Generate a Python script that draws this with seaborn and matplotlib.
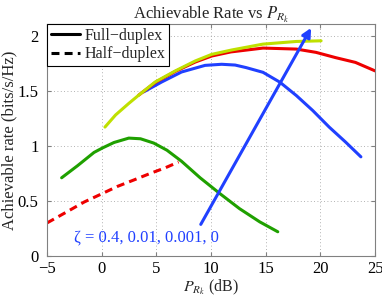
import matplotlib
matplotlib.use("Agg")
import matplotlib.pyplot as plt
import seaborn as sns

# full-duplex curves, one per zeta
zeta04_x = [-3.66, -2.2, -0.7, 0.06, 1.12, 2.48, 3.55, 4.76, 5.97, 7.3,
            9.0, 10.8, 12.6, 14.45, 16.1]
zeta04_y = [0.71, 0.82, 0.94, 0.98, 1.03, 1.07, 1.064, 1.025, 0.96, 0.86,
            0.71, 0.567, 0.43, 0.31, 0.22]

zeta001_x = [3.85, 5.5, 7.3, 9.45, 10.97, 12.2, 13.2, 14.75, 16.3, 17.8,
             19.3, 20.8, 22.3, 23.7]
zeta001_y = [1.49, 1.58, 1.67, 1.73, 1.74, 1.733, 1.71, 1.667, 1.577, 1.456,
             1.32, 1.17, 1.034, 0.90]

zeta0001_x = [3.39, 4.9, 6.73, 8.55, 10.06, 11.8, 14.75, 17.8, 19.6, 21.4,
              23.2, 25.0]
zeta0001_y = [1.46, 1.575, 1.675, 1.76, 1.815, 1.852, 1.887, 1.878, 1.848, 1.80,
              1.757, 1.68]

zeta0_x = [0.3, 1.27, 2.48, 3.39, 4.9, 6.73, 8.55, 10.06, 11.9, 14.75,
           17.8, 20.06]
zeta0_y = [1.17, 1.28, 1.385, 1.46, 1.58, 1.68, 1.77, 1.83, 1.87, 1.923,
           1.947, 1.953]

# half-duplex
half_x = [-5.0, -3.2, -1.6, -0.09, 1.4, 2.94, 4.45, 5.8, 7.03]
half_y = [0.30, 0.40, 0.49, 0.56, 0.63, 0.69, 0.75, 0.80, 0.853]

arrow_start = (9.06, 0.287)
arrow_end = (19.15, 2.07)
zeta_label = "ζ = 0.4, 0.01, 0.001, 0"
zeta_label_pos = (-2.55, 0.17)

sns.set_style("ticks")
plt.rcParams["font.family"] = ["Liberation Serif", "DejaVu Serif"]
plt.rcParams["mathtext.fontset"] = "stix"

fig, ax = plt.subplots(figsize=(3.82, 2.97), dpi=100)
fig.subplots_adjust(left=0.123, right=0.982, bottom=0.138, top=0.919)

lw = 2.2
dash = (0, (2.6, 1.7))
sns.lineplot(x=zeta04_x, y=zeta04_y, ax=ax, color="#1fa000", lw=lw, sort=False)
sns.lineplot(x=zeta001_x, y=zeta001_y, ax=ax, color="#2040ff", lw=lw, sort=False)
sns.lineplot(x=zeta0001_x, y=zeta0001_y, ax=ax, color="#ee0000", lw=lw, sort=False)
sns.lineplot(x=zeta0_x, y=zeta0_y, ax=ax, color="#bfe000", lw=lw, sort=False)
sns.lineplot(x=half_x, y=half_y, ax=ax, color="#ee0000", lw=lw, sort=False,
             linestyle=dash)

ax.annotate("", xy=arrow_end, xytext=arrow_start,
            arrowprops=dict(arrowstyle="-|>", color="#2040ff", lw=2.2,
                            mutation_scale=13, shrinkA=0, shrinkB=0))
ax.text(*zeta_label_pos, zeta_label, color="#2040ff", fontsize=12,
        va="center", ha="left")

# legend proxies
ax.plot([], [], color="black", lw=lw, label="Full\u2212duplex")
ax.plot([], [], color="black", lw=lw, linestyle=dash, label="Half\u2212duplex")
leg = ax.legend(loc="upper left", fontsize=11.5, frameon=True, fancybox=False,
                edgecolor="black", framealpha=1, borderaxespad=0,
                handlelength=1.8, handletextpad=0.3, borderpad=0.25,
                labelspacing=0.15)
leg.get_frame().set_linewidth(0.8)

ax.set_xlim(-5, 25)
ax.set_ylim(0, 2.105)
ax.set_xticks([-5, 0, 5, 10, 15, 20, 25])
ax.set_yticks([0, 0.5, 1, 1.5, 2])
ax.set_yticklabels(["0", "0.5", "1", "1.5", "2"])
ax.grid(True, linestyle=(0, (1, 3)), color="#999999", lw=0.6)
for s in ax.spines.values():
    s.set_color("#808080")
    s.set_linewidth(0.8)
ax.tick_params(direction="in", length=3, color="#808080", labelsize=12,
               labelcolor="black", top=True, right=True)
ax.tick_params(axis="x", pad=3.5)
ax.tick_params(axis="y", pad=6)

ax.set_title("Achievable Rate vs $P_{R_k}$", fontsize=12, pad=4)
ax.set_xlabel("$P_{R_k}$ (dB)", fontsize=11.5, labelpad=0.5)
ax.set_ylabel("Achievable rate (bits/s/Hz)", fontsize=12, labelpad=0)

fig.savefig("out.png", dpi=100)
